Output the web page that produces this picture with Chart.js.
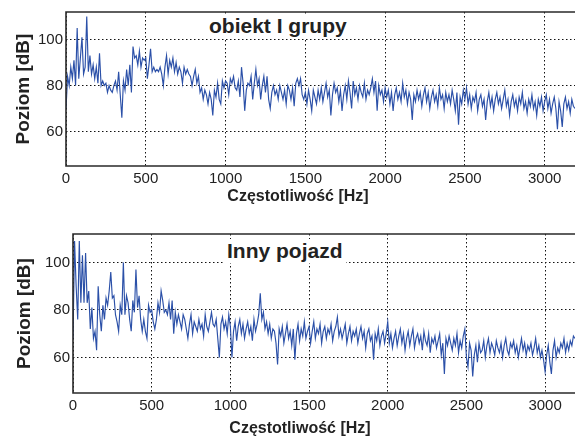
<!DOCTYPE html>
<html><head><meta charset="utf-8">
<script src="https://cdn.jsdelivr.net/npm/chart.js@4.4.1/dist/chart.umd.min.js"></script>
<style>
html,body{margin:0;padding:0;background:#fff;overflow:hidden;width:575px;height:441px}
.wrap{position:absolute;left:0;width:575px}
canvas{display:block}
.xt{position:absolute;font:bold 16px "Liberation Sans",Arial,sans-serif;color:#222;white-space:nowrap;transform:translateX(-50%);line-height:normal}
.pt{position:absolute;font:bold 21px "Liberation Sans",Arial,sans-serif;color:#222;background:#fff;padding:0 3px;white-space:nowrap;line-height:normal}
</style></head><body>
<div class="wrap" style="top:0;height:210px"><canvas id="c1" width="575" height="210"></canvas></div>
<div class="wrap" style="top:220px;height:221px"><canvas id="c2" width="575" height="221"></canvas></div>
<div class="xt" style="left:298px;top:187px">Częstotliwość [Hz]</div>
<div class="xt" style="left:300px;top:419px">Częstotliwość [Hz]</div>
<div class="pt" style="left:206px;top:14px">obiekt I grupy</div>
<div class="pt" style="left:224px;top:239px">Inny pojazd</div>
<script>
// sampling step of the spectra [Hz]
const FREQ_STEP = 10;
const xTickLabels = [0, 500, 1000, 1500, 2000, 2500, 3000];
const yTickLabels = [60, 80, 100];
const yTitle = 'Poziom [dB]';

// "obiekt I grupy" spectrum, dB, every 10 Hz from 0 Hz
const obiekt = [
70,84,80,88,83,91,80,105,83,92,
101,85,88,110,86,93,85,89,83,88,
81,94,80,82,80,81,77,80,78,77,
80,82,78,86,76,66,82,78,87,80,
89,77,97,92,93,89,95,88,92,91,
92,83,89,96,86,88,86,87,86,88,
85,80,88,93,85,91,88,92,86,90,
85,88,86,81,88,85,87,85,84,80,
84,87,81,84,77,79,74,78,76,72,
77,74,67,78,75,81,74,72,82,79,
82,81,76,83,81,84,79,78,82,75,
88,81,69,78,81,80,84,74,81,87,
80,83,74,80,84,77,84,74,70,77,
80,76,78,74,80,77,74,78,72,80,
78,74,79,71,81,83,80,83,76,74,
77,72,78,74,69,78,75,72,78,74,
79,73,77,81,75,78,67,76,81,77,
79,73,78,69,76,80,74,82,77,70,
82,76,79,74,80,77,75,81,74,78,
76,79,83,77,82,69,80,76,78,73,
79,75,78,72,77,69,76,79,74,77,
73,81,75,78,72,77,74,65,76,73,
78,74,77,71,76,79,73,77,70,75,
78,73,76,71,79,74,76,70,77,73,
76,72,78,74,69,77,63,75,72,78,
74,79,72,76,70,75,73,77,69,74,
76,71,74,65,73,77,71,75,69,74,
77,72,75,70,74,78,71,74,67,73,
76,71,74,69,75,72,77,70,73,68,
74,71,76,70,73,67,74,71,75,69,
73,76,70,74,68,72,75,70,61,73,
69,62,72,75,70,73,68,74,71,70
];

// "Inny pojazd" spectrum, dB, every 10 Hz from 0 Hz
const inny = [
68,109,90,76,109,83,103,83,104,83,
88,72,81,68,71,63,90,78,71,82,
76,85,82,88,96,85,86,78,75,71,
82,78,100,78,86,83,76,71,84,79,
97,81,86,76,71,76,71,68,82,79,
80,75,72,76,83,79,88,84,79,80,
78,83,76,84,70,79,74,78,75,72,
78,76,72,68,74,78,70,75,73,71,
76,72,74,69,78,73,71,75,79,74,
73,76,68,60,74,77,72,75,70,78,
73,60,71,75,67,73,76,70,74,68,
72,75,70,73,67,76,71,74,78,87,
76,79,72,75,70,74,68,72,71,66,
57,72,69,73,66,70,74,68,71,65,
72,59,70,74,67,72,69,75,68,71,
73,66,71,75,68,72,70,74,66,71,
73,68,72,70,74,67,71,73,77,69,
72,68,71,74,66,70,73,67,71,69,
72,66,70,73,68,71,64,70,72,67,
69,59,70,67,72,65,69,71,66,70,
75,66,70,64,68,71,65,69,72,66,
70,63,68,71,65,69,72,64,68,70,
66,69,63,71,67,65,70,62,68,66,
69,64,67,70,61,66,53,68,65,69,
66,63,68,65,70,62,67,64,69,72,
60,56,66,63,52,61,65,58,66,62,
63,67,60,65,68,62,66,64,61,67,
64,62,66,60,65,68,63,61,66,64,
67,62,65,60,64,68,63,66,61,65,
63,66,61,64,68,62,65,60,63,59,
54,61,65,58,53,63,67,60,64,62,
66,64,68,62,66,63,67,65,69,68
];

const framePlugin = {
  id: 'frame',
  afterDraw(chart) {
    const {ctx, chartArea: a} = chart;
    ctx.save();
    ctx.strokeStyle = '#2a2a2a';
    ctx.lineWidth = 1.6;
    ctx.beginPath();
    ctx.moveTo(a.right + 2, a.top);
    ctx.lineTo(a.left, a.top);
    ctx.lineTo(a.left, a.bottom);
    ctx.lineTo(a.right + 2, a.bottom);
    ctx.stroke();
    ctx.restore();
  }
};

function makeChart(id, values, leftW, padTop, xH, titlePad) {
  const pts = values.map((v, i) => ({x: i * FREQ_STEP, y: v}));
  const tickFont = {family: '"Liberation Sans", Arial, sans-serif', size: 15};
  new Chart(document.getElementById(id), {
    type: 'line',
    data: {datasets: [{data: pts, borderColor: '#2b50a8', borderWidth: 1.15, pointRadius: 0, tension: 0, fill: false}]},
    options: {
      responsive: false, animation: false, events: [],
      layout: {padding: {top: padTop, left: 0, right: 0, bottom: 0}},
      plugins: {legend: {display: false}, tooltip: {enabled: false}},
      scales: {
        x: {
          type: 'linear', min: 0, max: 3190,
          afterBuildTicks(s) { s.ticks = xTickLabels.map(v => ({value: v})); },
          afterFit(s) { s.height = xH; },
          ticks: {color: '#222', font: tickFont, padding: 4, maxRotation: 0, autoSkip: false,
                  callback: v => String(v)},
          grid: {color: '#111', lineWidth: 1, drawTicks: false, tickLength: 0},
          border: {display: false, dash: [1.5, 2.5]}
        },
        y: {
          type: 'linear', min: 45, max: 112,
          afterBuildTicks(s) { s.ticks = yTickLabels.map(v => ({value: v})); },
          afterFit(s) { s.width = leftW; },
          ticks: {color: '#222', font: tickFont, padding: 3, callback: v => String(v)},
          grid: {color: '#111', lineWidth: 1, drawTicks: false, tickLength: 0},
          border: {display: false, dash: [1.5, 2.5]},
          title: {display: true, text: yTitle, color: '#222',
                  font: {family: '"Liberation Sans", Arial, sans-serif', size: 19, weight: 'bold'},
                  padding: {top: titlePad, bottom: 0}}
        }
      }
    },
    plugins: [framePlugin]
  });
}

makeChart('c1', obiekt, 66, 7, 44, 12);
makeChart('c2', inny, 73, 14, 48, 13);
</script>
</body></html>
